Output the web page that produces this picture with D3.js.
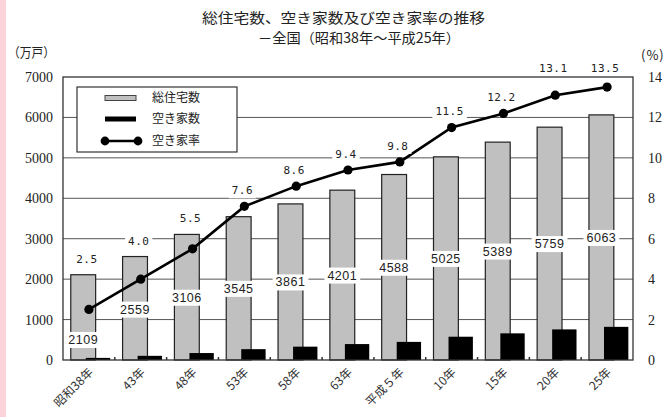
<!DOCTYPE html>
<html>
<head>
<meta charset="utf-8">
<script src="https://cdn.jsdelivr.net/npm/d3@7"></script>
<style>
  body { margin: 0; background: #fff; }
  svg { display: block; }
  .tick-serif text { font-family: 'Liberation Serif', 'DejaVu Serif', serif; font-size: 14px; }
</style>
</head>
<body>
<div id="chart"></div>
<script>
// 総住宅数、空き家数及び空き家率の推移

var years = ["昭和38年", "43年", "48年", "53年", "58年", "63年", "平成５年", "10年", "15年", "20年", "25年"];
var totalHomes = [2109, 2559, 3106, 3545, 3861, 4201, 4588, 5025, 5389, 5759, 6063];
var vacantHomes = [52, 103, 172, 268, 330, 394, 448, 576, 659, 757, 820];
var vacantRate = [2.5, 4.0, 5.5, 7.6, 8.6, 9.4, 9.8, 11.5, 12.2, 13.1, 13.5];
var leftTicks = [0, 1000, 2000, 3000, 4000, 5000, 6000, 7000];
var rightTicks = [0, 2, 4, 6, 8, 10, 12, 14];
var legendNames = ["総住宅数", "空き家数", "空き家率"];

var width = 667, height = 417;
var plot = {left: 63, right: 633, top: 77, bottom: 360};
var jp = "'Noto Sans CJK JP', sans-serif";

var svg = d3.select("#chart").append("svg")
    .attr("width", width)
    .attr("height", height);

svg.append("rect")
    .attr("width", width).attr("height", height)
    .attr("fill", "#fff");

// pink strip on the left edge
svg.append("rect")
    .attr("x", 0).attr("y", 0)
    .attr("width", 6).attr("height", height)
    .attr("fill", "#fcd3d9");

var x = d3.scaleBand()
    .domain(years)
    .range([plot.left, plot.right])
    .padding(0);
var yL = d3.scaleLinear().domain([0, 7000]).range([plot.bottom, plot.top]);
var yR = d3.scaleLinear().domain([0, 14]).range([plot.bottom, plot.top]);
var bw = x.bandwidth();

// title
svg.append("text")
    .attr("x", 202).attr("y", 23)
    .attr("textLength", 283).attr("lengthAdjust", "spacingAndGlyphs")
    .style("font-family", jp).style("font-size", "14px").attr("fill", "#222")
    .text("総住宅数、空き家数及び空き家率の推移");
svg.append("text")
    .attr("x", 258).attr("y", 43)
    .attr("textLength", 202).attr("lengthAdjust", "spacingAndGlyphs")
    .style("font-family", jp).style("font-size", "14px").attr("fill", "#222")
    .text("－全国（昭和38年～平成25年）");

// unit labels
svg.append("text")
    .attr("x", 8).attr("y", 57)
    .attr("textLength", 47).attr("lengthAdjust", "spacingAndGlyphs")
    .style("font-family", jp).style("font-size", "13px").attr("fill", "#222")
    .text("（万戸）");
svg.append("text")
    .attr("x", 641).attr("y", 60)
    .style("font-family", jp).style("font-size", "13px")
    .style("letter-spacing", "1px").attr("fill", "#222")
    .text("(%)");

// grid lines
svg.append("g")
    .selectAll("line")
    .data(leftTicks.slice(1, -1))
    .enter().append("line")
    .attr("x1", plot.left).attr("x2", plot.right)
    .attr("y1", function (d) { return yL(d); })
    .attr("y2", function (d) { return yL(d); })
    .attr("stroke", "#555").attr("stroke-width", 1);

// axes
var leftAxis = svg.append("g")
    .attr("class", "tick-serif")
    .attr("transform", "translate(" + plot.left + ",0)")
    .call(d3.axisLeft(yL).tickValues(leftTicks).tickFormat(d3.format("d")).tickSize(0).tickPadding(10));
var rightAxis = svg.append("g")
    .attr("class", "tick-serif")
    .attr("transform", "translate(" + plot.right + ",0)")
    .call(d3.axisRight(yR).tickValues(rightTicks).tickFormat(d3.format("d")).tickSize(0).tickPadding(15));
[leftAxis, rightAxis].forEach(function (g) {
    g.attr("font-family", null).attr("font-size", null);
    g.select(".domain").remove();
    g.selectAll("text").attr("fill", "#222");
});

var xAxis = svg.append("g")
    .attr("transform", "translate(0," + plot.bottom + ")")
    .call(d3.axisBottom(x).tickSize(0));
xAxis.select(".domain").remove();
xAxis.selectAll("text")
    .attr("y", 0).attr("dy", 0)
    .attr("transform", "translate(5,13) rotate(-45)")
    .style("text-anchor", "end")
    .style("font-family", jp)
    .style("font-size", "12px")
    .attr("fill", "#333");

// total homes bars
var idx = d3.range(years.length);
svg.append("g")
    .selectAll("rect")
    .data(idx)
    .enter().append("rect")
    .attr("x", function (i) { return x(years[i]) + bw * 0.15; })
    .attr("y", function (i) { return yL(totalHomes[i]); })
    .attr("width", bw * 0.48)
    .attr("height", function (i) { return yL(0) - yL(totalHomes[i]); })
    .attr("fill", "#c0c0c0")
    .attr("stroke", "#222").attr("stroke-width", 1.2);

// vacant homes bars
svg.append("g")
    .selectAll("rect")
    .data(idx)
    .enter().append("rect")
    .attr("x", function (i) { return x(years[i]) + bw * 0.44; })
    .attr("y", function (i) { return yL(vacantHomes[i]); })
    .attr("width", bw * 0.47)
    .attr("height", function (i) { return yL(0) - yL(vacantHomes[i]); })
    .attr("fill", "#000");

// frame
svg.append("rect")
    .attr("x", plot.left).attr("y", plot.top)
    .attr("width", plot.right - plot.left).attr("height", plot.bottom - plot.top)
    .attr("fill", "none").attr("stroke", "#333").attr("stroke-width", 1.3);

// small ticks between categories
svg.append("g")
    .selectAll("line")
    .data(years.slice(1))
    .enter().append("line")
    .attr("x1", function (d) { return x(d); })
    .attr("x2", function (d) { return x(d); })
    .attr("y1", plot.bottom - 3).attr("y2", plot.bottom)
    .attr("stroke", "#333").attr("stroke-width", 1.5);

// vacancy rate line
var line = d3.line()
    .x(function (i) { return x(years[i]) + bw / 2; })
    .y(function (i) { return yR(vacantRate[i]); });
svg.append("path")
    .datum(idx)
    .attr("d", line)
    .attr("fill", "none").attr("stroke", "#000").attr("stroke-width", 2.6);
svg.append("g")
    .selectAll("circle")
    .data(idx)
    .enter().append("circle")
    .attr("cx", function (i) { return x(years[i]) + bw / 2; })
    .attr("cy", function (i) { return yR(vacantRate[i]); })
    .attr("r", 4.6)
    .attr("fill", "#000");

// labels with white box behind
function boxedLabel(g, cx, cy, txt, font, size, spacing) {
    var grp = g.append("g");
    var bg = grp.append("rect").attr("fill", "#fff");
    var t = grp.append("text")
        .attr("x", cx).attr("y", cy)
        .attr("dy", "0.36em")
        .attr("text-anchor", "middle")
        .style("font-family", font)
        .style("font-size", size)
        .style("letter-spacing", spacing)
        .attr("fill", "#222")
        .text(txt);
    var b = t.node().getBBox();
    bg.attr("x", b.x - 3).attr("y", b.y - 1)
        .attr("width", b.width + 6).attr("height", b.height + 2);
}

var labels = svg.append("g");
idx.forEach(function (i) {
    var pointY = yR(vacantRate[i]);
    var ty = Math.max(yL(totalHomes[i] / 2), pointY + 30);
    boxedLabel(labels, x(years[i]) + bw * 0.39, ty, String(totalHomes[i]),
        "'Liberation Sans', sans-serif", "12.5px", "0.5px");

    var ry = Math.min(yL(totalHomes[i]), pointY) - 16;
    if (ry - 6 < plot.top) ry = plot.top - 9;
    boxedLabel(labels, x(years[i]) + bw / 2 - 2, ry, vacantRate[i].toFixed(1),
        "'DejaVu Sans Mono', monospace", "11px", "0.5px");
});

// legend
var legend = svg.append("g");
legend.append("rect")
    .attr("x", 77).attr("y", 87)
    .attr("width", 160).attr("height", 65)
    .attr("fill", "#fff").attr("stroke", "#333").attr("stroke-width", 1.2);
var legY = [98, 119, 141];
legend.append("rect")
    .attr("x", 105).attr("y", legY[0] - 2.5)
    .attr("width", 31).attr("height", 5)
    .attr("fill", "#c0c0c0").attr("stroke", "#444").attr("stroke-width", 1);
legend.append("rect")
    .attr("x", 105).attr("y", legY[1] - 2.5)
    .attr("width", 31).attr("height", 5)
    .attr("fill", "#000");
legend.append("line")
    .attr("x1", 105).attr("x2", 138)
    .attr("y1", legY[2]).attr("y2", legY[2])
    .attr("stroke", "#000").attr("stroke-width", 2.4);
legend.selectAll("circle")
    .data([105, 138])
    .enter().append("circle")
    .attr("cx", function (d) { return d; })
    .attr("cy", legY[2])
    .attr("r", 4.4)
    .attr("fill", "#000");
legend.selectAll("text")
    .data(legendNames)
    .enter().append("text")
    .attr("x", 152)
    .attr("y", function (d, i) { return legY[i]; })
    .attr("dy", "0.36em")
    .style("font-family", jp)
    .style("font-size", "12px")
    .attr("fill", "#222")
    .text(function (d) { return d; });
</script>
</body>
</html>
